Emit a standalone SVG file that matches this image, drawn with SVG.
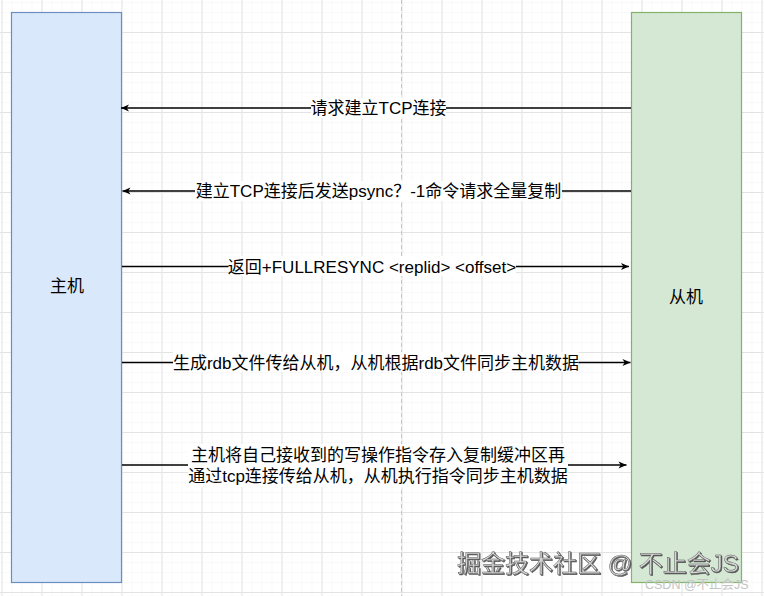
<svg xmlns="http://www.w3.org/2000/svg" width="764" height="596" viewBox="0 0 764 596">
<style>
.t{font-family:"Liberation Sans","Noto Sans CJK SC",sans-serif;font-size:17px;fill:#000;text-anchor:middle}
.conn{stroke:#000;stroke-width:1.3;fill:none}
.bg{fill:#fff}
</style>
<defs>
<pattern id="minor" patternUnits="userSpaceOnUse" x="1.5" y="2" width="10" height="10">
<path d="M0,0 H10 M0,0 V10" stroke="#f3f3f3" stroke-width="1" fill="none"/>
</pattern>
<pattern id="major" patternUnits="userSpaceOnUse" x="1.5" y="-8" width="40" height="40">
<path d="M0,0.5 H40 M0.5,0 V40" stroke="#e3e3e3" stroke-width="1" fill="none"/>
</pattern>
<marker id="arr" markerUnits="userSpaceOnUse" markerWidth="10" markerHeight="10" viewBox="-1 -5 10 10" refX="8" refY="0" orient="auto">
<path d="M0,-3.6 L8,0 L0,3.6 L2.2,0 Z" fill="#000"/>
</marker>
<filter id="sh" x="-5%" y="-20%" width="110%" height="140%">
<feDropShadow dx="1" dy="1" stdDeviation="0.6" flood-color="#333" flood-opacity="0.8"/>
</filter>
</defs>
<rect width="764" height="596" fill="#fff"/>
<rect width="764" height="596" fill="url(#minor)"/>
<rect width="764" height="596" fill="url(#major)"/>
<line x1="401.5" y1="0" x2="401.5" y2="596" stroke="#c8c8c8" stroke-width="1" stroke-dasharray="4 3"/>
<g id="master">
<rect x="11.5" y="12.5" width="110" height="570" fill="#dae8fc" stroke="#6c8ebf" stroke-width="1.2"/>
<text class="t" x="67" y="292">主机</text>
</g>
<g id="slave">
<rect x="631.5" y="12.5" width="110" height="570" fill="#d5e8d4" stroke="#82b366" stroke-width="1.2"/>
<text class="t" x="686" y="303">从机</text>
</g>
<g id="connectors">
<g id="e1">
<line class="conn" x1="631" y1="108" x2="121" y2="108" marker-end="url(#arr)"/>
<rect class="bg" x="311" y="98" width="135" height="20"/>
<text class="t" x="378.5" y="114">请求建立TCP连接</text>
</g>
<g id="e2">
<line class="conn" x1="631" y1="191" x2="122.5" y2="191" marker-end="url(#arr)"/>
<rect class="bg" x="195" y="181" width="367" height="20"/>
<text class="t" x="378.5" y="197">建立TCP连接后发送psync？-1命令请求全量复制</text>
</g>
<g id="e3">
<line class="conn" x1="122" y1="266.5" x2="629" y2="266.5" marker-end="url(#arr)"/>
<rect class="bg" x="228.5" y="256" width="287.5" height="20"/>
<text class="t" x="372" y="272.5">返回+FULLRESYNC &lt;replid&gt; &lt;offset&gt;</text>
</g>
<g id="e4">
<line class="conn" x1="122" y1="362.5" x2="630.5" y2="362.5" marker-end="url(#arr)"/>
<rect class="bg" x="173" y="352" width="405.5" height="20"/>
<text class="t" x="376" y="368.5">生成rdb文件传给从机，从机根据rdb文件同步主机数据</text>
</g>
<g id="e5">
<line class="conn" x1="122" y1="465" x2="626.5" y2="465" marker-end="url(#arr)"/>
<rect class="bg" x="188" y="444" width="380" height="43"/>
<text class="t" x="378" y="461">主机将自己接收到的写操作指令存入复制缓冲区再</text>
<text class="t" x="378" y="482">通过tcp连接传给从机，从机执行指令同步主机数据</text>
</g>
</g>
<text x="457" y="572" font-family="Liberation Sans,'Noto Sans CJK SC',sans-serif" font-size="24" fill="#d8d8d8" stroke="#5a5a5a" stroke-width="0.5" filter="url(#sh)">掘金技术社区 @ 不止会JS</text>
<text x="645" y="589" font-family="Liberation Sans,'Noto Sans CJK SC',sans-serif" font-size="12.5" fill="#c4c4c4">CSDN @不止会JS</text>
</svg>
